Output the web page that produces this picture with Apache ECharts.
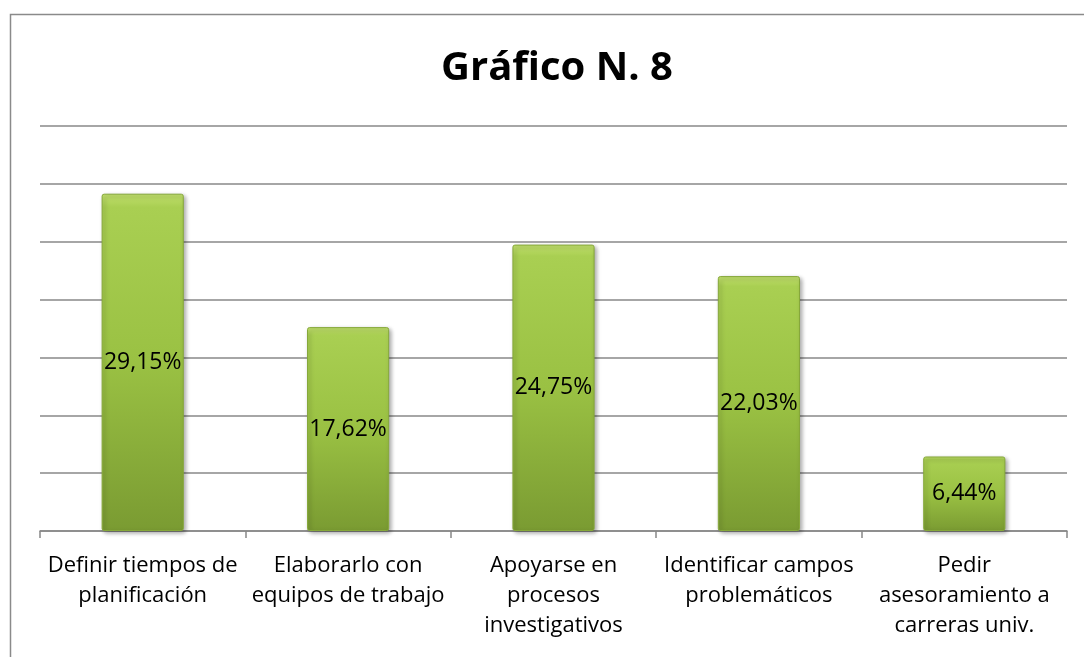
<!DOCTYPE html>
<html>
<head>
<meta charset="utf-8">
<script src="https://cdn.jsdelivr.net/npm/echarts@6/dist/echarts.min.js"></script>
<style>
    html, body { margin: 0; padding: 0; background: #fff; }
    #chart { width: 1084px; height: 657px; }
</style>
</head>
<body>
<div id="chart"></div>
<script>
    // datos del gráfico
    const categorias = [
        'Definir tiempos de\nplanificación',
        'Elaborarlo con\nequipos de trabajo',
        'Apoyarse en\nprocesos\ninvestigativos',
        'Identificar campos\nproblemáticos',
        'Pedir\nasesoramiento a\ncarreras univ.'
    ];
    const porcentajes = [29.15, 17.62, 24.75, 22.03, 6.44];
    const etiquetas = ['29,15%', '17,62%', '24,75%', '22,03%', '6,44%'];

    let myChart = echarts.init(document.getElementById('chart'));
    let option = {
        animation: false,
        title: {
            text: 'Gráfico N. 8',
            left: 552,
            textAlign: 'center',
            top: 44,
            textStyle: {
                fontFamily: 'Open Sans',
                fontSize: 40,
                fontWeight: 'bold',
                color: '#000'
            }
        },
        graphic: [
            {
                type: 'rect',
                shape: { x: 10.5, y: 14.5, width: 1200, height: 800 },
                style: { fill: 'none', stroke: '#8a8a8a', lineWidth: 1.5 }
            }
        ],
        grid: {
            left: 40,
            right: 17,
            top: 126,
            bottom: 126,
            containLabel: false
        },
        xAxis: {
            type: 'category',
            data: categorias,
            axisLine: { lineStyle: { color: '#888', width: 1.5 } },
            axisTick: { show: true, length: 7, lineStyle: { color: '#888', width: 1.5 } },
            axisLabel: {
                interval: 0,
                margin: 20,
                fontFamily: 'Open Sans',
                fontSize: 22,
                lineHeight: 30,
                color: '#000'
            }
        },
        yAxis: {
            type: 'value',
            min: 0,
            max: 35,
            interval: 5,
            axisLabel: { show: false },
            axisLine: { show: false },
            axisTick: { show: false },
            splitLine: { lineStyle: { color: '#888', width: 1.5 } }
        },
        series: [
            {
                type: 'bar',
                barWidth: '40%',
                data: porcentajes,
                itemStyle: {
                    color: new echarts.graphic.LinearGradient(0, 0, 0, 1, [
                        { offset: 0, color: '#c2e06e' },
                        { offset: 0.04, color: '#a9cf52' },
                        { offset: 0.5, color: '#9ac143' },
                        { offset: 1, color: '#7a9b32' }
                    ]),
                    borderColor: '#86a83a',
                    borderWidth: 1,
                    borderRadius: 2,
                    shadowBlur: 4,
                    shadowColor: 'rgba(0,0,0,0.35)',
                    shadowOffsetX: 2,
                    shadowOffsetY: 2
                },
                label: {
                    show: true,
                    position: 'inside',
                    fontFamily: 'Open Sans',
                    fontSize: 23,
                    color: '#000',
                    formatter: p => etiquetas[p.dataIndex]
                }
            }
        ]
    };
    myChart.setOption(option);
</script>
</body>
</html>
